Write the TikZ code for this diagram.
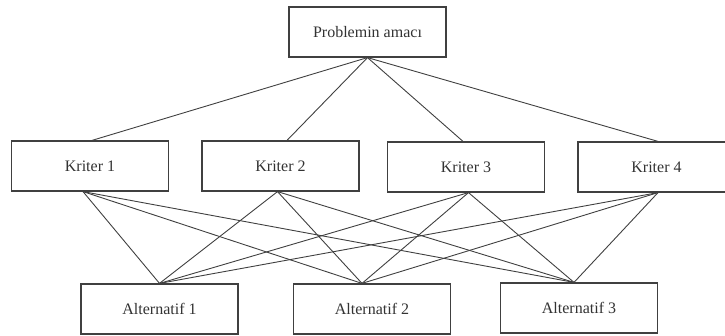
\documentclass[tikz,border=0pt]{standalone}
\usepackage{fontspec}
\setmainfont{Liberation Serif}
\tikzset{box/.style = {draw=black!75, fill=white, line width=1.2pt, rectangle, minimum height=50pt, minimum width=157pt, font=\fontsize{16}{18}\selectfont, text=black!80},
         link/.style = {draw=black!75, line width=0.9pt}}

\begin{document}
\begin{tikzpicture}[x=1pt,y=-1pt]
        \useasboundingbox (0,0) rectangle (725,336);

        \node[box](amac)at(367.5,32){Problemin amacı};

        \node[box](k1)at(90,166){Kriter 1};
        \node[box](k2)at(280.5,166){Kriter 2};
        \node[box](k3)at(466,167){Kriter 3};
        \node[box](k4)at(656.5,167){Kriter 4};

        \node[box](a1)at(159.5,309){Alternatif 1};
        \node[box](a2)at(372,309){Alternatif 2};
        \node[box](a3)at(579,308){Alternatif 3};

        % amac to kriter
        \foreach \k/\dx in {k1/2,k2/6.5,k3/-3,k4/1.5}
            \draw[link](amac.south)--([xshift=\dx]\k.north);

        % kriter to alternatif
        \foreach \k/\dk in {k1/-7,k2/-3,k3/2.5,k4/1.5}
            \foreach \a/\da in {a1/0,a2/-10,a3/-5}
                \draw[link]([xshift=\dk]\k.south)--([xshift=\da]\a.north);
    \end{tikzpicture}
\end{document}
